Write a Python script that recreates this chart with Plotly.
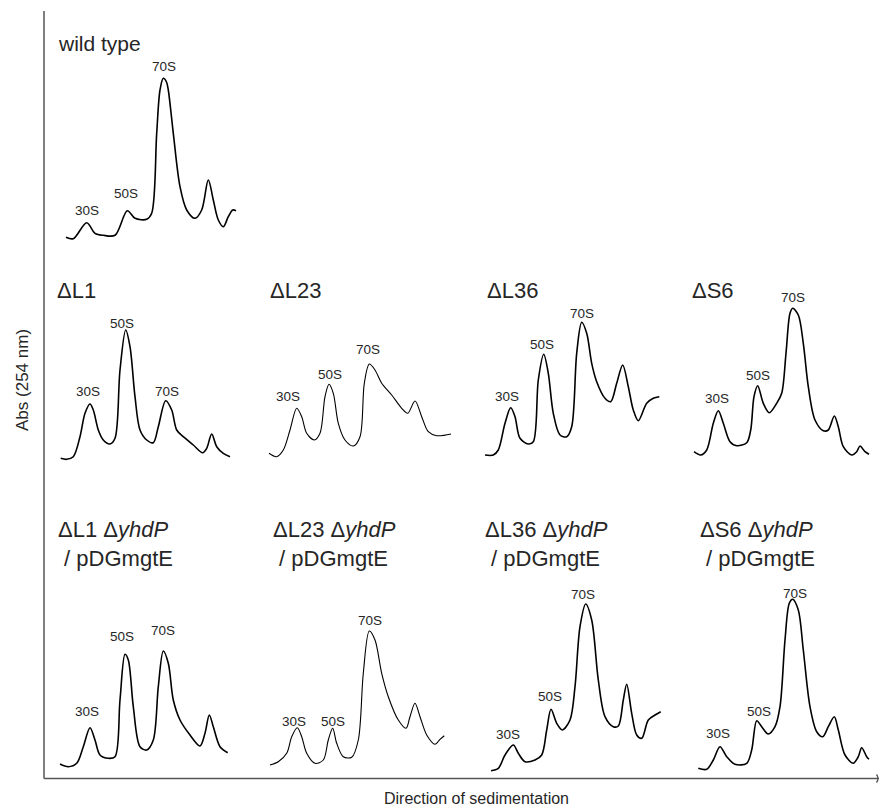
import plotly.graph_objects as go

FIG_W, FIG_H = 880, 809

# ---------------- data: sedimentation profiles (position, A254 in arbitrary units) ----------------
wt_x = [11, 18.3, 31.7, 40, 48.3, 60, 72.3, 80, 91.7, 96.7, 101.7, 105, 108.3, 111.5, 113.3, 118.3, 125, 131.7, 140, 146.7, 153.3, 158.3, 163.3, 168.3, 173.3, 177.7, 181]
wt_y = [7.7, 6.3, 22.3, 11.7, 9.7, 9.7, 34.3, 26.7, 25.7, 31.7, 111.7, 155, 166.7, 163, 155, 111.7, 58.3, 35, 26.7, 35, 65, 45, 25, 18.3, 28.3, 35, 34.3]
wt_lab = [(31.7, 35), (71, 52), (108.5, 179)]

l1_x = [5.7, 11.7, 18.3, 25, 30, 35, 38.3, 43.3, 48.3, 55, 60, 65, 70.7, 75, 80, 85, 91.7, 98.3, 103.3, 110.7, 116.7, 121.7, 128.3, 138.3, 147.7, 151.7, 156.7, 161.7, 168.3, 175]
l1_y = [6.7, 5.7, 8.3, 28.3, 51.7, 61, 55, 35, 25, 21, 26.7, 95, 135, 118.3, 68.3, 35, 25, 22.3, 38.3, 64.3, 55, 35, 28.3, 20, 12.3, 16.7, 31, 18.3, 11.7, 8.3]
l1_lab = [(33.3, 73.3), (66.7, 141.7), (111.7, 73.3)]

l23_x = [4, 11.7, 18.3, 25, 31.7, 36.7, 41.7, 49.3, 55, 60, 64, 68.3, 73.3, 80, 88.3, 95, 99.3, 104.3, 110, 116.7, 126.7, 136.7, 142.7, 150, 156.7, 163.3, 171.7, 186]
l23_y = [11.7, 8.3, 15, 35, 56.7, 48.3, 31.7, 25, 31.7, 68.3, 80.7, 71.7, 41.7, 25, 19, 28.3, 81.7, 101, 95, 81.7, 70, 56.7, 51.7, 64, 48.3, 33.3, 29.3, 31]
l23_lab = [(23.3, 68.3), (65, 90), (103.3, 115)]

l36_x = [5, 13.3, 18.3, 25, 30.7, 35, 40, 48.3, 53.3, 58.3, 63.7, 68.3, 73.3, 80, 86.7, 91.7, 96.7, 101.7, 106.7, 111.7, 116.7, 125, 130.7, 136.7, 142.7, 148.3, 153.3, 158.3, 166.7, 173.3, 179.3]
l36_y = [10, 10, 15, 41.7, 57.3, 48.3, 26.7, 21, 23.3, 85, 110.7, 91.7, 51.7, 30, 28.3, 38.3, 111.7, 142.7, 131.7, 101.7, 83.3, 66.7, 63.3, 81.7, 100, 78.3, 55, 44.3, 61.7, 66.7, 68.3]
l36_lab = [(26.7, 68.3), (61.7, 120), (101.7, 151.7)]

s6_x = [4, 10.7, 16.7, 23.3, 28.3, 33.3, 40, 46.7, 56.7, 60.7, 64, 67.7, 73.3, 79.3, 86.7, 91.7, 96, 100, 102.7, 108.3, 113.3, 118.3, 125, 133.3, 138.3, 144.3, 148.3, 153.3, 161.7, 166.7, 170, 175, 179]
s6_y = [13.3, 10, 15, 41.7, 54.3, 41.7, 23.3, 19.3, 22.3, 35, 68.3, 79.3, 61.7, 52.3, 61.7, 71.7, 111.7, 151.7, 156.7, 150, 121.7, 78.3, 45, 34.3, 35, 49, 38.3, 18.3, 10, 13.3, 19, 13.3, 10.7]
s6_lab = [(26.7, 66.7), (68.3, 89), (103.3, 167.3)]

l1y_x = [5, 13.3, 21.7, 28.3, 35, 40, 45, 53.3, 60, 65, 70, 73.3, 78.3, 85, 91.7, 98.3, 103.3, 108.3, 113.3, 118.3, 125, 135, 145, 150, 154.3, 158.3, 165, 172.7]
l1y_y = [11, 8.3, 11.7, 28.3, 47.3, 35, 20, 16.7, 18.3, 75, 120.7, 115, 68.3, 28.3, 25, 35, 88.3, 124, 111.7, 75, 55, 40, 29, 41.7, 60, 48.3, 28.3, 22.3]
l1y_lab = [(31.7, 63.3), (66.7, 139), (108.3, 145)]

l23y_x = [5, 13.3, 21.7, 26.7, 32.3, 36.7, 41.7, 50, 58.3, 63.3, 67.7, 71.7, 78.3, 86.7, 93.3, 98.3, 104.3, 110, 116.7, 123.3, 133.3, 141, 145, 150, 155, 161.7, 170, 175, 179.3]
l23y_y = [10, 13.3, 21.7, 38.3, 47.3, 38.3, 21.7, 11.7, 15, 35, 46.7, 31.7, 18.3, 17.7, 35, 101.7, 144, 135, 101.7, 78.3, 55, 46.7, 58.3, 71.7, 58.3, 40, 30.7, 35.7, 39.3]
l23y_lab = [(29.3, 53.3), (68.3, 53.3), (105, 155)]

l36y_x = [11, 18.3, 25, 33.3, 38.3, 45, 55, 61.7, 66.7, 71, 76.7, 82.3, 90, 95, 100, 105.7, 111.7, 118.3, 125, 133.3, 138.3, 143.3, 146.7, 151.7, 156.7, 161.7, 168.3, 175, 180.7]
l36y_y = [4.3, 6.7, 20, 30, 21.7, 13.3, 15, 20, 45, 65.7, 51.7, 45, 55, 88.3, 148.3, 171, 155, 95, 58.3, 48.3, 49, 75, 90.7, 61.7, 40, 36.7, 55, 60, 63.3]
l36y_lab = [(28.3, 40.7), (70, 78.3), (103.3, 181)]

s6y_x = [8.3, 16.7, 23.3, 30, 36.7, 45, 56.7, 61.7, 66.7, 71.7, 78.3, 85, 90, 95, 99.3, 102.7, 108.3, 113.3, 120, 126.7, 132.7, 138.3, 144.3, 148.3, 155, 163.3, 168.3, 171.7, 176.7, 179]
s6y_y = [6.7, 5.7, 15, 28.3, 18.3, 10.7, 11.7, 25, 54.3, 48.3, 41, 48.3, 68.3, 135, 171.7, 175.7, 165, 125, 68.3, 43.3, 38.3, 48.3, 58.3, 45, 20, 11.7, 18.3, 27.3, 18.3, 15.7]
s6y_lab = [(28.3, 41.7), (69, 63.3), (105, 181.7)]

peak_names = ["30S", "50S", "70S"]

titles = [
    "wild type",
    "ΔL1", "ΔL23", "ΔL36", "ΔS6",
    "ΔL1 Δ<i>yhdP</i><br> / pDGmgtE",
    "ΔL23 Δ<i>yhdP</i><br> / pDGmgtE",
    "ΔL36 Δ<i>yhdP</i><br> / pDGmgtE",
    "ΔS6 Δ<i>yhdP</i><br> / pDGmgtE",
]

# ---------------- layout of panels (pixels) ----------------
COL_LEFT = [55, 265, 480, 690]
ROW_BOTTOM = [245, 465, 775]
PW, PH = 190, 200

panels = [
    (wt_x, wt_y, wt_lab, 0, 0, 1.6),
    (l1_x, l1_y, l1_lab, 0, 1, 1.6),
    (l23_x, l23_y, l23_lab, 1, 1, 1.1),
    (l36_x, l36_y, l36_lab, 2, 1, 1.6),
    (s6_x, s6_y, s6_lab, 3, 1, 1.6),
    (l1y_x, l1y_y, l1y_lab, 0, 2, 1.6),
    (l23y_x, l23y_y, l23y_lab, 1, 2, 1.1),
    (l36y_x, l36y_y, l36y_lab, 2, 2, 1.6),
    (s6y_x, s6y_y, s6y_lab, 3, 2, 1.6),
]
# title anchor (left x px, top y px, font size)
title_pos = [(56, 30, 21), (55, 276, 22), (268, 276, 22), (485, 276, 22), (690, 276, 22),
             (56, 515, 22), (271, 515, 22), (483, 515, 22), (698, 515, 22)]

FONT = "Liberation Sans, Arial, Helvetica, sans-serif"
TXT = "#262626"

fig = go.Figure()
annotations = []
layout_axes = {}

for i, (px, py, lab, c, r, lw) in enumerate(panels):
    k = "" if i == 0 else str(i + 1)
    left = COL_LEFT[c]
    bottom = ROW_BOTTOM[r]
    fig.add_trace(go.Scatter(
        x=px, y=py, mode="lines",
        line=dict(color="black", width=lw, shape="spline", smoothing=0.9),
        xaxis="x" + k, yaxis="y" + k, hoverinfo="skip", showlegend=False,
    ))
    layout_axes["xaxis" + k] = dict(
        domain=[left / FIG_W, (left + PW) / FIG_W], range=[0, PW],
        visible=False, fixedrange=True, anchor="y" + k)
    layout_axes["yaxis" + k] = dict(
        domain=[(FIG_H - bottom) / FIG_H, (FIG_H - bottom + PH) / FIG_H], range=[0, PH],
        visible=False, fixedrange=True, anchor="x" + k)
    for name, (lx, ly) in zip(peak_names, lab):
        annotations.append(dict(
            x=lx, y=ly, xref="x" + k, yref="y" + k, text=name, showarrow=False,
            xanchor="center", yanchor="middle",
            font=dict(family=FONT, size=13.5, color=TXT)))
    tx, ty, fs = title_pos[i]
    annotations.append(dict(
        x=tx / FIG_W, y=1 - ty / FIG_H, xref="paper", yref="paper",
        text=titles[i], showarrow=False, xanchor="left", yanchor="top", align="left",
        font=dict(family=FONT, size=fs, color=TXT)))

# axis titles
annotations.append(dict(x=476 / FIG_W, y=1 - 798 / FIG_H, xref="paper", yref="paper",
                        text="Direction of sedimentation", showarrow=False,
                        xanchor="center", yanchor="middle",
                        font=dict(family=FONT, size=16, color=TXT)))
annotations.append(dict(x=22 / FIG_W, y=1 - 380 / FIG_H, xref="paper", yref="paper",
                        text="Abs (254 nm)", showarrow=False, textangle=-90,
                        xanchor="center", yanchor="middle",
                        font=dict(family=FONT, size=17, color=TXT)))

AX = "#555555"
shapes = [
    dict(type="line", xref="paper", yref="paper", x0=44 / FIG_W, x1=44 / FIG_W,
         y0=1 - 11 / FIG_H, y1=1 - 778.5 / FIG_H, line=dict(color=AX, width=1.5)),
    dict(type="line", xref="paper", yref="paper", x0=44 / FIG_W, x1=879 / FIG_W,
         y0=1 - 778.5 / FIG_H, y1=1 - 778.5 / FIG_H, line=dict(color=AX, width=1.5)),
    dict(type="path", xref="paper", yref="paper",
         path=f"M {876.5 / FIG_W},{1 - 774.5 / FIG_H} Q {879.5 / FIG_W},{1 - 778.5 / FIG_H} {876.5 / FIG_W},{1 - 782.5 / FIG_H}",
         line=dict(color=AX, width=1.3)),
]

fig.update_layout(
    width=FIG_W, height=FIG_H,
    margin=dict(l=0, r=0, t=0, b=0),
    paper_bgcolor="white", plot_bgcolor="rgba(0,0,0,0)",
    showlegend=False,
    annotations=annotations, shapes=shapes,
    **layout_axes,
)

fig.write_html(
    "out.html",
    config={"displayModeBar": False},
    post_script="document.body.style.margin='0';document.body.style.padding='0';document.body.style.overflow='hidden';",
)
